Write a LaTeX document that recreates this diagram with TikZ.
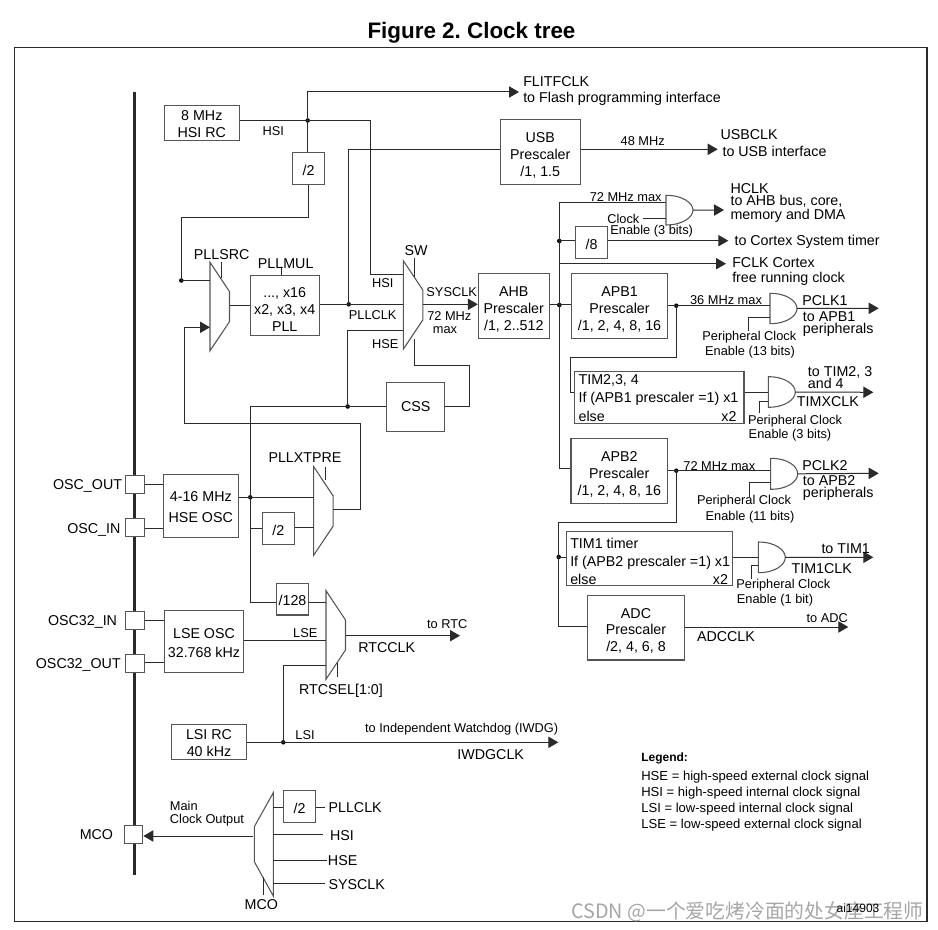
\documentclass[tikz,border=0pt]{standalone}
\usepackage{fontspec}
\setmainfont{Liberation Sans}
\newfontfamily\cjkfont{Noto Sans CJK SC}
\usetikzlibrary{arrows.meta,calc}
\definecolor{ln}{HTML}{2A2A2A}
\definecolor{gl}{HTML}{555555}
\tikzset{
 wire/.style={draw=ln,line width=0.75pt},
 arr/.style={wire,-{Triangle[length=7.5pt,width=8.5pt]}},
 bx/.style={draw=gl,line width=0.8pt,inner sep=0pt,align=center,font=\mainf,text=black},
 pad/.style={draw=gl,line width=0.8pt,inner sep=0pt,minimum width=14pt,minimum height=13.5pt,fill=white},
 txt/.style={inner sep=0pt,font=\mainf,text=black,align=center,yshift=-0.7pt},
 ltxt/.style={inner sep=0pt,font=\mainf,text=black,anchor=west,align=left,yshift=-0.7pt},
 stxt/.style={inner sep=0pt,font=\smallf,text=black,align=center,yshift=-0.7pt},
 sltxt/.style={inner sep=0pt,font=\smallf,text=black,anchor=west,align=left,yshift=-0.7pt},
 dot/.style={circle,fill=black,inner sep=0pt,minimum size=3.4pt},
 shape1/.style={draw=gl,line width=0.8pt},
}
\newcommand{\mainf}{\frenchspacing\fontsize{10.7pt}{12.6pt}\selectfont}
\newcommand{\smallf}{\frenchspacing\fontsize{9.6pt}{11.2pt}\selectfont}
\newcommand{\tlh}[1]{\rule{0pt}{#1}}
% right-pointing mux: name, left x, top y  (width 19.5, height 89)
\newcommand{\muxr}[3]{%
 \coordinate (#1-a) at (#2,#3);
 \coordinate (#1-b) at ({#2+19.5},{#3+29.3});
 \coordinate (#1-c) at ({#2+19.5},{#3+59.3});
 \coordinate (#1-d) at (#2,{#3+88.5});
 \draw[shape1] (#1-a)--(#1-b)--(#1-c)--(#1-d)--cycle;}
% AND gate: name, left x, top y, height
\newcommand{\andg}[4]{%
 \coordinate (#1-w) at (#2,{#3+#4/2});
 \coordinate (#1-e) at ({#2+27},{#3+#4/2});
 \draw[shape1,fill=white] (#2,#3) .. controls ({#2+17},#3) and ({#2+27},{#3+8}) .. ({#2+27},{#3+#4/2})
   .. controls ({#2+27},{#3+#4-8}) and ({#2+17},{#3+#4}) .. (#2,{#3+#4}) -- cycle;}
\begin{document}
\begin{tikzpicture}[x=0.75pt,y=-0.75pt]
\useasboundingbox (0,0) rectangle (938,930);
\node[inner sep=0pt,font=\frenchspacing\fontsize{16.8pt}{19pt}\selectfont\bfseries] (title) at (471.5,33) {Figure 2. Clock tree};
\node[draw=ln,line width=0.9pt,inner sep=0pt,minimum width=684.5pt,minimum height=655.4pt] (frame) at (470.6,484.6) {};

% rail
\coordinate (railt) at (134.7,92);
\coordinate (railb) at (134.7,875);
\draw[ln,line width=1.9pt] (railt)--(railb);

% boxes
\node[bx,minimum width=56.3pt,minimum height=26.5pt] (hsirc) at (201.8,123) {\tlh{9.5pt}8 MHz\\HSI RC};
\node[bx,minimum width=23.7pt,minimum height=23.7pt] (div2a) at (308.5,168.5) {\tlh{10.5pt}/2};
\node[bx,minimum width=60pt,minimum height=48.7pt] (usb) at (540.3,151.8) {\tlh{12.5pt}USB\\Prescaler\\/1, 1.5};
\node[bx,minimum width=51.5pt,minimum height=45pt] (pll) at (284.7,305.3) {\tlh{14pt}..., x16\\x2, x3, x4\\PLL};
\node[bx,minimum width=53.2pt,minimum height=48.7pt] (ahb) at (513.8,305.8) {\tlh{12.5pt}AHB\\Prescaler\\/1, 2..512};
\node[bx,minimum width=43.5pt,minimum height=37pt] (css) at (415.7,406.7) {CSS};
\node[bx,minimum width=23.7pt,minimum height=23.7pt] (div8) at (591.5,242.5) {\tlh{10.5pt}/8};
\node[bx,minimum width=72.3pt,minimum height=48.7pt] (apb1) at (619.5,305.8) {\tlh{12.5pt}APB1\\Prescaler\\/1, 2, 4, 8, 16};
\node[bx,minimum width=127pt,minimum height=38.7pt] (tim2) at (659.3,397.5) {};
\node[bx,minimum width=72.5pt,minimum height=48.7pt] (apb2) at (619.3,470.8) {\tlh{12.5pt}APB2\\Prescaler\\/1, 2, 4, 8, 16};
\node[bx,minimum width=124.8pt,minimum height=40.7pt] (tim1) at (649.5,558.8) {};
\node[bx,minimum width=72.5pt,minimum height=48.7pt] (adc) at (636,627.5) {\tlh{12.5pt}ADC\\Prescaler\\/2, 4, 6, 8};
\node[bx,minimum width=56.3pt,minimum height=47pt] (hse) at (200.8,506) {\tlh{9.5pt}4-16 MHz\\[3pt]HSE OSC};
\node[bx,minimum width=23.7pt,minimum height=23.7pt] (div2b) at (278.3,528.5) {\tlh{10.5pt}/2};
\node[bx,minimum width=24.2pt,minimum height=23.5pt] (div128) at (292.5,599.3) {\tlh{9.5pt}/128};
\node[bx,minimum width=59.5pt,minimum height=46.5pt] (lse) at (204,641.7) {\tlh{9.5pt}LSE OSC\\[1.5pt]32.768 kHz};
\node[bx,minimum width=56.5pt,minimum height=26.5pt] (lsi) at (209,742) {\tlh{9.5pt}LSI RC\\40 kHz};
\node[bx,minimum width=24.2pt,minimum height=23.7pt] (div2c) at (299.5,806.5) {\tlh{10.5pt}/2};

% pads
\node[pad] (pout) at (135,484.3) {};
\node[pad] (pin) at (135,527.7) {};
\node[pad] (p32in) at (135,620.3) {};
\node[pad] (p32out) at (135,663.3) {};
\node[pad] (pmco) at (133.5,834.7) {};

% muxes
\muxr{msrc}{210}{262.3}
\muxr{msw}{403.3}{260.7}
\muxr{mxt}{313.7}{466.7}
\muxr{mrtc}{326}{590.7}
\coordinate (mco-a) at (273.3,792.7);
\coordinate (mco-b) at (254.3,826.7);
\coordinate (mco-c) at (254.3,861.7);
\coordinate (mco-d) at (273.3,896);
\draw[shape1] (mco-a)--(mco-b)--(mco-c)--(mco-d)--cycle;

% junctions
\node[dot] (jhsi) at (307.7,120.5) {};
\node[dot] (jpll) at (348.7,304.3) {};
\node[dot] (jsrc) at (181.3,280.5) {};
\node[dot] (jhse) at (347.7,406.5) {};
\node[dot] (josc) at (250.3,497.3) {};
\node[dot] (jlsi) at (283.3,742.3) {};
\node[dot] (jahb) at (559.3,305) {};
\node[dot] (jdiv8) at (559.3,241) {};
\node[dot] (japb1) at (676.3,305.7) {};
\node[dot] (japb2) at (676.3,470.7) {};
\node[dot] (jtim1) at (558.7,557) {};

% top wires
\coordinate (flit) at (519,92);
\draw[arr] (jhsi.center) -- (jhsi.center |- flit) -- (flit);
\draw[wire] (hsirc.east |- jhsi) -- (jhsi.center);
\draw[wire] (jhsi.center) -| (370.7,275) -- (403.3,275);
\draw[wire] (jhsi.center) -- (jhsi.center |- div2a.north);
\draw[wire] (div2a.south) |- (jsrc.center |- 0,217.3) -- (jsrc.center);
\draw[wire] (jsrc.center) -- (210,280.5);
\draw[wire] (jpll.center) |- (usb.west |- 0,149.3);
\coordinate (usbo) at (717.7,149.3);
\draw[arr] (usb.east |- usbo) -- (usbo);
\draw[wire] (221,262.3) -- (221,278);
\draw[wire] (229.5,305.3) -- (pll.west);
\draw[wire] (281.7,267) -- (281.7,275.5);
\draw[wire] (pll.east |- jpll) -- (msw-a |- jpll);
\draw[wire] (414,258) -- (414,277);
\coordinate (sysin) at (ahb.west |- jpll);
\draw[arr] (msw-b |- jpll) -- (sysin);

% HSE/CSS
\draw[wire] (msw-a |- 0,330.3) -| (jhse.center);
\draw[wire] (jhse.center) -- (css.west |- jhse);
\draw[wire] (css.east |- jhse) -| (469,365.3) -| (414.3,339);
\draw[wire] (250.3,406.5) -- (jhse.center);
\draw[wire] (250.3,406.5) |- (div128.west |- 0,602.3);
\draw[wire] (josc.center) -- (250.3,528.3) -- (div2b.west |- 0,528.3);
\draw[wire] (hse.east |- josc) -- (mxt-a |- josc);
\draw[wire] (div2b.east |- 0,527.7) -- (mxt-a |- 0,527.7);
\draw[wire] (325,466.7) -- (325,480);
\draw[wire] (mxt-b |- 0,509) -| (360.7,423.3) -| (184,327.3);
\coordinate (srcin) at (210,327.3);
\draw[arr] (184,327.3) -- (srcin);

% oscillators
\draw[wire] (pout.east |- 0,484) -- (hse.west |- 0,484);
\draw[wire] (pin.east |- 0,528.3) -- (hse.west |- 0,528.3);
\draw[wire] (p32in.east |- 0,620.3) -- (lse.west |- 0,620.3);
\draw[wire] (p32out.east |- 0,662.3) -- (lse.west |- 0,662.3);
\draw[wire] (lse.east |- 0,640.7) -- (mrtc-a |- 0,640.7);
\draw[wire] (div128.east |- 0,602.3) -- (mrtc-a |- 0,602.3);
\draw[wire] (337.3,663) -- (337.3,677);
\coordinate (rtco) at (460,635.7);
\draw[arr] (mrtc-b |- rtco) -- (rtco);
\draw[wire] (jlsi.center) |- (mrtc-a |- 0,665.3);
\coordinate (lsio) at (558.3,742.3);
\draw[arr] (lsi.east |- lsio) -- (lsio);

% MCO
\draw[arr] (253,836) -- (pmco.east |- 0,836);
\draw[wire] (273.3,807.3) -- (div2c.west |- 0,807.3);
\coordinate (cpll) at (325,807.3);
\coordinate (chsi) at (323.3,834.7);
\coordinate (chse) at (326.7,860);
\coordinate (csys) at (325,883.3);
\draw[wire] (div2c.east |- cpll) -- (cpll);
\draw[wire] (273.3,834.7) -- (chsi);
\draw[wire] (273.3,860) -- (chse);
\draw[wire] (273.3,883.3) -- (csys);
\draw[wire] (263.3,877) -- (263.3,895);

% AHB bus
\draw[wire] (ahb.east |- jahb) -- (apb1.west |- jahb);
\coordinate (and1in) at (666,202.7);
\draw[wire] (and1in) -| (559.3,468.3) -- (apb2.west |- 0,468.3);
\draw[wire] (559.3,241) -- (div8.west |- 0,241);
\coordinate (cto) at (728.3,240.7);
\draw[arr] (div8.east |- cto) -- (cto);
\coordinate (fclk) at (726,263.7);
\draw[arr] (559.3,263.7) -- (fclk);

% AND gates
\andg{a1}{666}{195.3}{29.7}
\draw[wire] (643.3,218.7) -- (666,218.7);
\coordinate (hclk) at (724,210);
\draw[arr] (a1-e) -- (hclk);

\draw[wire] (apb1.east |- japb1) -- (770,305.7);
\andg{a2}{770}{293.3}{30.4}
\draw[wire] (770,317.3) -| (748.3,331);
\coordinate (pc1) at (878.7,308.3);
\draw[arr] (a2-e) -- (pc1);

\draw[wire] (japb1.center) |- (570,357) |- (tim2.west |- 0,392.3);
\draw[wire] (tim2.east |- 0,392.3) -- (768.3,392.3);
\andg{a3}{768.3}{376.7}{30.6}
\draw[wire] (768.3,401) -| (759,413);
\coordinate (tmx) at (873.3,392.3);
\draw[arr] (a3-e) -- (tmx);

\draw[wire] (apb2.east |- japb2) -- (770.7,470.7);
\andg{a4}{770.7}{458.3}{31}
\draw[wire] (770.7,482.3) -| (749,497);
\coordinate (pc2) at (878.7,473.3);
\draw[arr] (a4-e) -- (pc2);

\draw[wire] (japb2.center) |- (558.7,522) |- (adc.west |- 0,626);
\draw[wire] (jtim1.center) -- (tim1.west |- jtim1);
\draw[wire] (tim1.east |- 0,557.3) -- (758.3,557.3);
\andg{a5}{758.3}{542}{30.7}
\draw[wire] (758.3,565.7) -| (751.7,579);
\coordinate (t1o) at (873.3,557.3);
\draw[arr] (a5-e) -- (t1o);
\coordinate (adco) at (848.3,627);
\draw[arr] (adc.east |- adco) -- (adco);

% texts top
\node[ltxt] (t1) at (523,81) {FLITFCLK};
\node[ltxt] (t2) at (523,98) {to Flash programming interface};
\node[stxt] (t3) at (273.3,129.7) {HSI};
\node[txt] (t4) at (221.7,254) {PLLSRC};
\node[txt] (t5) at (285.7,263) {PLLMUL};
\node[txt] (t6) at (416,250) {SW};
\node[stxt] (t7) at (382.7,282.3) {HSI};
\node[stxt] (t8) at (372.7,314.3) {PLLCLK};
\node[stxt] (t9) at (385.3,343.3) {HSE};
\node[stxt] (t10) at (451.7,291.3) {SYSCLK};
\node[stxt] (t11) at (449.3,314.7) {72 MHz};
\node[stxt] (t12) at (445,328.7) {max};
\node[stxt] (t13) at (642.7,140) {48 MHz};
\node[ltxt] (t14) at (720.3,133.3) {USBCLK};
\node[ltxt] (t15) at (722.3,150) {to USB interface};
\node[stxt] (t16) at (625.7,195.7) {72 MHz max};
\node[stxt] (t17) at (623.3,218.3) {Clock};
\node[stxt] (t18) at (651.7,230.7) {Enable (3 bits)};
\node[ltxt] (t19) at (730.3,187.3) {HCLK};
\node[ltxt] (t20) at (730.3,200.7) {to AHB bus, core,};
\node[ltxt] (t21) at (730.3,215.3) {memory and DMA};
\node[ltxt] (t22) at (734.3,240.7) {to Cortex System timer};
\node[ltxt] (t23) at (732,261.3) {FCLK Cortex};
\node[ltxt] (t24) at (732,278.3) {free running clock};
\node[stxt] (t25) at (726,298.7) {36 MHz max};
\node[ltxt] (t26) at (802,300) {PCLK1};
\node[ltxt] (t27) at (802.7,316) {to APB1};
\node[ltxt] (t28) at (802.7,329) {peripherals};
\node[stxt] (t29) at (749.3,336) {Peripheral Clock};
\node[stxt] (t30) at (750,351.7) {Enable (13 bits)};
\node[ltxt] (t31) at (578.3,379.7) {TIM2,3, 4};
\node[ltxt] (t32) at (578.3,398.3) {If (APB1 prescaler =1) x1};
\node[ltxt] (t33) at (578.3,415.3) {else};
\node[txt,anchor=east] (t34) at (736.7,415.5) {x2};
\node[ltxt] (t35) at (807.7,371.7) {to TIM2, 3};
\node[ltxt] (t36) at (807.7,382.7) {and 4};
\node[ltxt] (t37) at (796.7,400.7) {TIMXCLK};
\node[stxt] (t38) at (795,420) {Peripheral Clock};
\node[stxt] (t39) at (790,434) {Enable (3 bits)};
\node[stxt] (t40) at (719.3,465) {72 MHz max};
\node[ltxt] (t41) at (802,465) {PCLK2};
\node[ltxt] (t42) at (802.7,479.3) {to APB2};
\node[ltxt] (t43) at (802.7,492.7) {peripherals};
\node[stxt] (t44) at (744,500.7) {Peripheral Clock};
\node[stxt] (t45) at (750,516.7) {Enable (11 bits)};
\node[ltxt] (t46) at (570,542.3) {TIM1 timer};
\node[ltxt] (t47) at (570,561.7) {If (APB2 prescaler =1) x1};
\node[ltxt] (t48) at (570,578.3) {else};
\node[txt,anchor=east] (t49) at (728.3,578.5) {x2};
\node[txt] (t50) at (845.7,547.3) {to TIM1};
\node[txt] (t51) at (821.7,567.3) {TIM1CLK};
\node[stxt] (t52) at (783.3,584.7) {Peripheral Clock};
\node[stxt] (t53) at (775,599.7) {Enable (1 bit)};
\node[stxt] (t54) at (827.3,616.7) {to ADC};
\node[txt] (t55) at (726,636) {ADCCLK};
\node[txt] (t56) at (305,457) {PLLXTPRE};
\node[txt,anchor=east] (t57) at (122.3,485) {OSC\_OUT};
\node[txt,anchor=east] (t58) at (120.7,529) {OSC\_IN};
\node[txt,anchor=east] (t59) at (117.3,621.3) {OSC32\_IN};
\node[txt,anchor=east] (t60) at (121,664) {OSC32\_OUT};
\node[txt,anchor=east] (t61) at (113.3,834) {MCO};
\node[stxt] (t62) at (305.3,632.3) {LSE};
\node[stxt] (t63) at (447.3,623.3) {to RTC};
\node[txt] (t64) at (386.7,647) {RTCCLK};
\node[txt] (t65) at (341,690) {RTCSEL[1:0]};
\node[stxt] (t66) at (305,734.3) {LSI};
\node[stxt] (t67) at (461.7,728) {to Independent Watchdog (IWDG)};
\node[txt] (t68) at (490.7,753.3) {IWDGCLK};
\node[sltxt] (t69) at (169.7,805) {Main};
\node[sltxt] (t70) at (169.7,819.3) {Clock Output};
\node[ltxt] (t71) at (328.3,807) {PLLCLK};
\node[txt] (t72) at (342,835) {HSI};
\node[ltxt] (t73) at (327.7,860) {HSE};
\node[ltxt] (t74) at (328.3,884) {SYSCLK};
\node[txt] (t75) at (261.3,904) {MCO};
% legend
\node[sltxt,font=\fontsize{9pt}{11pt}\selectfont\bfseries] (l0) at (641,757.5) {Legend:};
\node[sltxt,font=\fontsize{9.8pt}{11pt}\selectfont] (l1) at (641,776.5) {HSE = high-speed external clock signal};
\node[sltxt,font=\fontsize{9.8pt}{11pt}\selectfont] (l2) at (641,792.5) {HSI = high-speed internal clock signal};
\node[sltxt,font=\fontsize{9.8pt}{11pt}\selectfont] (l3) at (641,808.5) {LSI = low-speed internal clock signal};
\node[sltxt,font=\fontsize{9.8pt}{11pt}\selectfont] (l4) at (641,824) {LSE = low-speed external clock signal};
% watermark
\node[inner sep=0pt,anchor=west,text=black!35,font=\fontsize{14.85pt}{16pt}\selectfont\cjkfont] (wm) at (571,911.5) {CSDN @一个爱吃烤冷面的处女座工程师};
\node[inner sep=0pt,font=\fontsize{9pt}{11pt}\selectfont,text=black] (ai) at (858,908) {ai14903};
\end{tikzpicture}
\end{document}
